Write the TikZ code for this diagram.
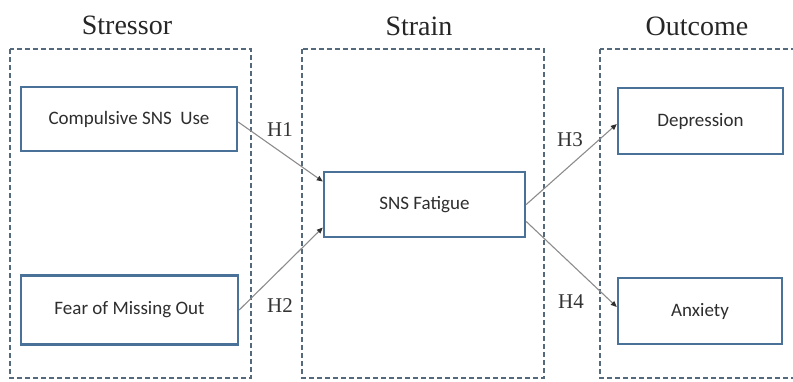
\documentclass[tikz,border=0pt]{standalone}
\usepackage{fontspec}
\setmainfont{Liberation Serif}
\newfontfamily\boxfont{Carlito}
\usetikzlibrary{arrows.meta}

\definecolor{boxline}{HTML}{4A7299}
\definecolor{frameline}{HTML}{55697D}
\definecolor{linkgray}{HTML}{8C8C8C}
\definecolor{tipgray}{HTML}{303030}
\definecolor{txtgray}{HTML}{2E2E2E}

\tikzset{
  frame/.style={draw=frameline, line width=1.8pt, dash pattern=on 5pt off 3pt},
  varbox/.style={draw=boxline, line width=2.4pt, fill=white, inner sep=0pt,
    font=\boxfont\fontsize{19}{21}\selectfont, text=txtgray},
  title/.style={font=\fontsize{28}{30}\selectfont, text=black!85, anchor=base, inner sep=0pt},
  hlabel/.style={font=\fontsize{21}{23}\selectfont, text=black!80, inner sep=0pt},
  link/.style={draw=linkgray, line width=1.1pt,
    -{Triangle[length=6pt,width=5pt,fill=tipgray,color=tipgray]}}
}

\begin{document}
\begin{tikzpicture}[x=1pt, y=-1pt]
  \useasboundingbox (0,0) rectangle (793,381);
  \clip (0,0) rectangle (793,381);

  % column frames
  \draw[frame] (10,49) rectangle (251,378);
  \draw[frame] (302,49) rectangle (544,378);
  \draw[frame] (600,49) rectangle (805,378);

  % column titles
  \node[title] (tstress) at (127,34) {Stressor};
  \node[title] (tstrain) at (419,35) {Strain};
  \node[title] (toutcome) at (697,35) {Outcome};

  % variables
  \node[varbox, minimum width=216pt, minimum height=64pt] (comp) at (129,119) {Compulsive SNS\ \ Use};
  \node[varbox, minimum width=217pt, minimum height=69pt] (fomo) at (129.5,310) {Fear of Missing Out};
  \node[varbox, minimum width=201pt, minimum height=65pt] (sns) at (424.5,204.5) {SNS Fatigue};
  \node[varbox, minimum width=165pt, minimum height=66pt] (dep) at (700.5,121) {Depression};
  \node[varbox, minimum width=164pt, minimum height=66pt] (anx) at (700,311) {Anxiety};

  % hypothesised paths
  \draw[link] ([yshift=-3pt]comp.east) -- ([yshift=23pt]sns.west);
  \draw[link] (fomo.east) -- ([yshift=-23pt]sns.west);
  \draw[link] (sns.east) -- ([yshift=-3pt]dep.west);
  \draw[link] ([yshift=-17pt]sns.east) -- ([yshift=4pt]anx.west);

  % path labels
  \node[hlabel] (h1) at (280,130) {H1};
  \node[hlabel] (h2) at (280,306) {H2};
  \node[hlabel] (h3) at (570,140) {H3};
  \node[hlabel] (h4) at (571,302) {H4};
\end{tikzpicture}
\end{document}
